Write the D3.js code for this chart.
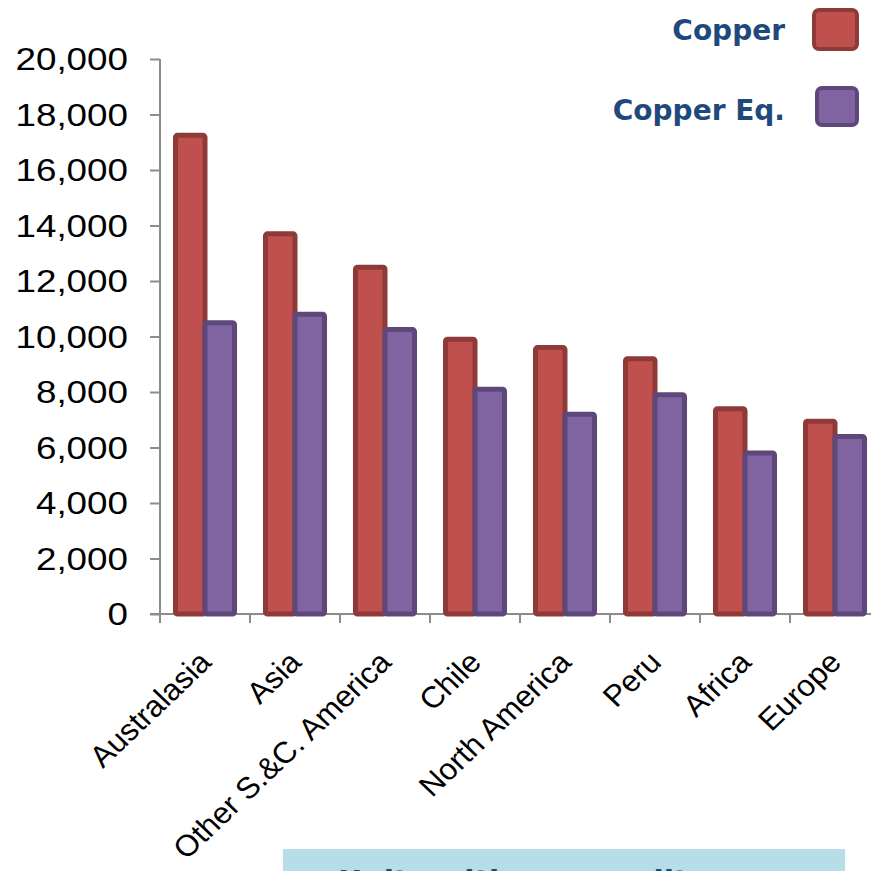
<!DOCTYPE html>
<html>
<head>
<meta charset="utf-8">
<script src="https://cdn.jsdelivr.net/npm/d3@7/dist/d3.min.js"></script>
<style>
  html, body { margin: 0; padding: 0; background: #fff; }
  svg { display: block; }
</style>
</head>
<body>
<svg id="chart" width="871" height="871"></svg>
<script>
// Regional totals, copper vs copper-equivalent
const categories = ["Australasia", "Asia", "Other S.&C. America", "Chile", "North America", "Peru", "Africa", "Europe"];
const copper   = [17250, 13700, 12500, 9900, 9600, 9200, 7400, 6950];
const copperEq = [10500, 10800, 10250, 8100, 7200, 7900, 5800, 6400];
const seriesNames = ["Copper", "Copper Eq."];
const yTicks = [0, 2000, 4000, 6000, 8000, 10000, 12000, 14000, 16000, 18000, 20000];
const footerText = "Units with commodity";

const fills   = ["#C0504D", "#8064A2"];
const strokes = ["#8E3A38", "#5D4879"];
const axisColor = "#8C8C8C";
const stretch = 1.15;

const svg = d3.select("#chart");

const x0 = d3.scaleBand()
  .domain(categories)
  .range([160, 880])
  .paddingInner(0.344)
  .paddingOuter(0.172);

const x1 = d3.scaleBand()
  .domain(seriesNames)
  .range([0, x0.bandwidth()]);

const y = d3.scaleLinear().domain([0, 20000]).range([614, 59]);

// y axis
const yAxis = svg.append("g")
  .attr("transform", "translate(160,0)")
  .call(d3.axisLeft(y).tickValues(yTicks).tickSize(10).tickFormat(d3.format(",")));
yAxis.select(".domain").attr("stroke", axisColor).attr("stroke-width", 2)
  .attr("d", "M0,59V623");
yAxis.selectAll(".tick line").attr("stroke", axisColor).attr("stroke-width", 2);
yAxis.selectAll(".tick text")
  .attr("x", 0).attr("dy", "0.34em")
  .attr("transform", `translate(-32,0) scale(${stretch},1)`)
  .attr("fill", "#000")
  .style("font-family", "'Liberation Sans', Arial, sans-serif")
  .style("font-size", "32px");

// x axis line and boundary ticks
const step = x0.step();
const boundaries = d3.range(categories.length + 1).map(i => 160 + i * step);
const xAxis = svg.append("g");
xAxis.append("line")
  .attr("x1", 150).attr("x2", 880).attr("y1", y(0)).attr("y2", y(0))
  .attr("stroke", axisColor).attr("stroke-width", 2);
xAxis.selectAll("line.tick").data(boundaries).join("line")
  .attr("class", "tick")
  .attr("x1", d => d).attr("x2", d => d)
  .attr("y1", y(0)).attr("y2", y(0) + 9)
  .attr("stroke", axisColor).attr("stroke-width", 2);

// bars
const rows = categories.map((c, i) => ({ cat: c, vals: [copper[i], copperEq[i]] }));
const groups = svg.append("g").selectAll("g").data(rows).join("g")
  .attr("transform", d => `translate(${x0(d.cat)},0)`);
groups.selectAll("rect")
  .data(d => d.vals.map((v, k) => ({ v, k })))
  .join("rect")
  .attr("x", d => x1(seriesNames[d.k]))
  .attr("width", x1.bandwidth())
  .attr("y", d => y(d.v))
  .attr("height", d => y(0) - y(d.v))
  .attr("rx", 2)
  .attr("fill", d => fills[d.k])
  .attr("stroke", d => strokes[d.k])
  .attr("stroke-width", 5);

// category labels
svg.append("g").selectAll("text").data(categories).join("text")
  .attr("transform", d => `translate(${x0(d) + x0.bandwidth() / 2 + 8},664) scale(1.05,1) rotate(-45)`)
  .attr("text-anchor", "end")
  .attr("fill", "#000")
  .style("font-family", "'Liberation Sans', Arial, sans-serif")
  .style("font-size", "30px")
  .text(d => d);

// legend
const legend = svg.append("g");
const legendRows = [
  { name: seriesNames[0], ty: 40, box: [812, 8, 47, 43] },
  { name: seriesNames[1], ty: 120, box: [815, 86, 44, 41] }
];
legendRows.forEach((r, k) => {
  legend.append("text")
    .attr("x", 785).attr("y", r.ty)
    .attr("text-anchor", "end")
    .attr("fill", "#1F497D")
    .style("font-family", "'DejaVu Sans', sans-serif")
    .style("font-weight", "bold")
    .style("font-size", "28px")
    .text(r.name);
  legend.append("rect")
    .attr("x", r.box[0] + 2).attr("y", r.box[1] + 2)
    .attr("width", r.box[2] - 4).attr("height", r.box[3] - 4)
    .attr("rx", 5)
    .attr("fill", fills[k]).attr("stroke", strokes[k]).attr("stroke-width", 4);
});

// footer note box
svg.append("rect")
  .attr("x", 283).attr("y", 849).attr("width", 562).attr("height", 40)
  .attr("fill", "#B7DDE8");
svg.append("text")
  .attr("x", 338).attr("y", 892)
  .attr("fill", "#1F497D")
  .style("font-family", "'DejaVu Sans', sans-serif")
  .style("font-weight", "bold")
  .style("font-size", "30px")
  .text(footerText);
</script>
</body>
</html>
